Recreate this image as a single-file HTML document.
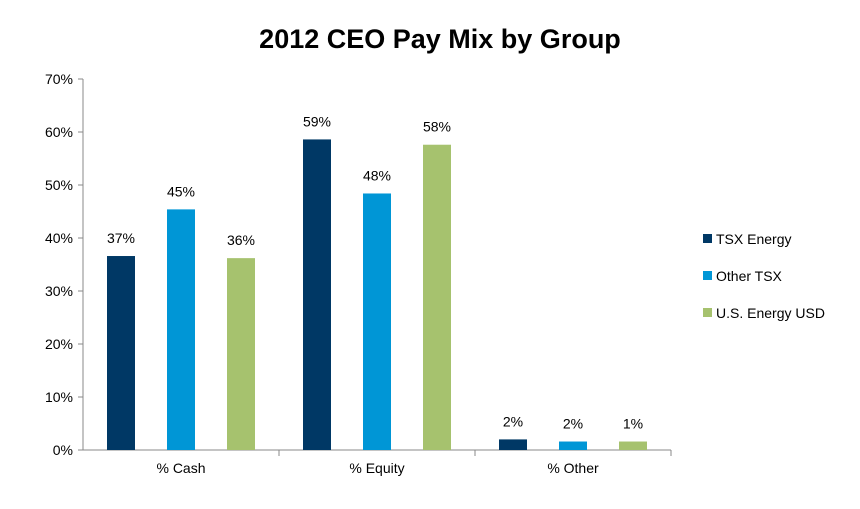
<!DOCTYPE html>
<html><head><meta charset="utf-8"><style>
body{margin:0;background:#fff;font-family:"Liberation Sans",sans-serif;}
</style></head><body>
<svg width="860" height="504" viewBox="0 0 860 504" id="chart">
<text x="440" y="48" text-anchor="middle" font-size="27" font-weight="bold" fill="#000">2012 CEO Pay Mix by Group</text>
<g id="axes"></g><g id="bars"></g>
<g font-size="14" fill="#000">
<rect x="703" y="234" width="9" height="9" fill="#003865"/>
<text x="716" y="244">TSX Energy</text>
<rect x="703" y="271" width="9" height="9" fill="#0096d6"/>
<text x="716" y="281">Other TSX</text>
<rect x="703" y="308" width="9" height="9" fill="#a6c26e"/>
<text x="716" y="318">U.S. Energy USD</text>
</g>
</svg>
<script>
const categories=["% Cash","% Equity","% Other"];
const tsxEnergy=[36.6,58.6,2.0];
const otherTsx=[45.4,48.4,1.6];
const usEnergy=[36.2,57.6,1.6];
const valueLabels=[["37%","59%","2%"],["45%","48%","2%"],["36%","58%","1%"]];
const yTicks=[0,10,20,30,40,50,60,70];
const NS="http://www.w3.org/2000/svg";
const x0=83,x1=671,y0=450,y70=79;
const y=v=>y0-(v/70)*(y0-y70);
const catW=(x1-x0)/categories.length;
const axes=document.getElementById('axes'),bars=document.getElementById('bars');
function mk(tag,attrs,parent){const e=document.createElementNS(NS,tag);for(const k in attrs)e.setAttribute(k,attrs[k]);parent.appendChild(e);return e;}
const ya=mk('line',{x1:x0,y1:y70,x2:x0,y2:y0,stroke:'#888'},axes);


const xa=mk('line',{x1:x0,y1:y0,x2:x1,y2:y0,stroke:'#888'},axes);


yTicks.forEach(t=>{
 mk('line',{x1:x0-5,x2:x0,y1:y(t),y2:y(t),stroke:'#888'},axes);
 const tx=mk('text',{x:x0-10,y:y(t)+5,'text-anchor':'end','font-size':14,fill:'#000'},axes);
 tx.textContent=t+'%';
 
 
});
categories.forEach((c,i)=>{
 const bx=x0+catW*(i+1);
 mk('line',{x1:bx,x2:bx,y1:y0,y2:y0+6,stroke:'#888'},axes);
 const tx=mk('text',{x:x0+catW*(i+0.5),y:y0+23,'text-anchor':'middle','font-size':14,fill:'#000'},axes);
 tx.textContent=c;
 
 
});
const series=[tsxEnergy,otherTsx,usEnergy];
const colors=['#003865','#0096d6','#a6c26e'];
const names=['tsx-energy','other-tsx','us-energy'];
series.forEach((s,si)=>{
 s.forEach((v,ci)=>{
  const cx=x0+catW*(ci+0.5)+(si-1)*60;
  const r=mk('rect',{x:cx-14,y:y(v),width:28,height:y0-y(v),fill:colors[si]},bars);
  
  
  const t=mk('text',{x:cx,y:y(v)-13,'text-anchor':'middle','font-size':14,fill:'#000'},bars);
  t.textContent=valueLabels[si][ci];
  
  
 });
});
</script>
</body></html>
